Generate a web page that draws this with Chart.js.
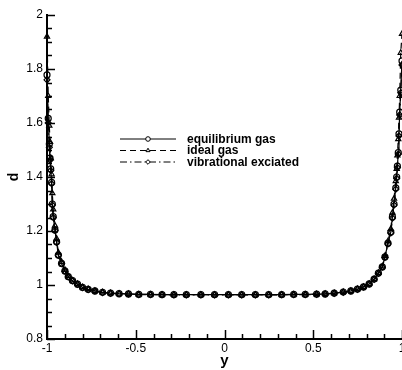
<!DOCTYPE html>
<html>
<head>
<meta charset="utf-8">
<script src="https://cdn.jsdelivr.net/npm/chart.js@4/dist/chart.umd.min.js"></script>
<style>
  html, body { margin: 0; padding: 0; background: #fff; overflow: hidden; }
  #wrap { width: 402px; height: 370px; overflow: hidden; }
</style>
</head>
<body>
<div id="wrap"><canvas id="chart" width="440" height="370"></canvas></div>
<script>
// y position across the channel (shared grid of all three curves)
const yPos = [-1.000, -0.993, -0.987, -0.983, -0.979, -0.974, -0.970, -0.965, -0.955, -0.946,
  -0.936, -0.918, -0.899, -0.880, -0.856, -0.828, -0.800, -0.768, -0.730, -0.687,
  -0.642, -0.594, -0.541, -0.483, -0.417, -0.352, -0.285, -0.215, -0.133, -0.056,
  0.022, 0.097, 0.174, 0.249, 0.322, 0.390, 0.455, 0.519, 0.567, 0.618,
  0.669, 0.712, 0.749, 0.783, 0.815, 0.843, 0.867, 0.889, 0.904, 0.921,
  0.937, 0.946, 0.955, 0.965, 0.970, 0.974, 0.979, 0.983, 0.987, 0.993, 1.000];

const dEquilibrium = [1.778, 1.617, 1.522, 1.470, 1.430, 1.380, 1.300, 1.253, 1.204, 1.160,
  1.111, 1.080, 1.052, 1.031, 1.016, 1.003, 0.991, 0.984, 0.978, 0.973,
  0.970, 0.968, 0.967, 0.965, 0.965, 0.964, 0.964, 0.964, 0.964, 0.964,
  0.964, 0.964, 0.964, 0.964, 0.964, 0.965, 0.965, 0.966, 0.967, 0.970,
  0.974, 0.978, 0.985, 0.993, 1.004, 1.022, 1.044, 1.067, 1.104, 1.155,
  1.196, 1.252, 1.300, 1.360, 1.400, 1.440, 1.490, 1.560, 1.640, 1.722, 1.830];

const dIdeal = [1.920, 1.700, 1.590, 1.530, 1.470, 1.410, 1.340, 1.280, 1.220, 1.172,
  1.120, 1.086, 1.056, 1.033, 1.017, 1.004, 0.992, 0.985, 0.978, 0.973,
  0.970, 0.968, 0.967, 0.965, 0.965, 0.964, 0.964, 0.964, 0.964, 0.964,
  0.964, 0.964, 0.964, 0.964, 0.964, 0.965, 0.965, 0.966, 0.967, 0.970,
  0.974, 0.978, 0.985, 0.993, 1.004, 1.022, 1.045, 1.069, 1.108, 1.162,
  1.208, 1.268, 1.320, 1.385, 1.430, 1.480, 1.540, 1.620, 1.700, 1.860, 1.930];

const dVibrational = [1.760, 1.600, 1.510, 1.462, 1.424, 1.375, 1.296, 1.250, 1.202, 1.158,
  1.110, 1.079, 1.051, 1.030, 1.015, 1.002, 0.990, 0.983, 0.977, 0.972,
  0.969, 0.967, 0.966, 0.964, 0.964, 0.964, 0.963, 0.963, 0.963, 0.963,
  0.963, 0.963, 0.963, 0.963, 0.964, 0.964, 0.964, 0.965, 0.966, 0.969,
  0.973, 0.977, 0.984, 0.992, 1.003, 1.021, 1.043, 1.066, 1.102, 1.152,
  1.193, 1.248, 1.296, 1.355, 1.395, 1.435, 1.485, 1.552, 1.630, 1.712, 1.815];

const seriesNames = ['equilibrium gas', 'ideal gas', 'vibrational exciated'];
const xTicks = [-1, -0.5, 0, 0.5, 1];
const yTicks = [0.8, 1, 1.2, 1.4, 1.6, 1.8, 2];

const toPoints = (vals) => yPos.map((x, i) => ({ x: x, y: vals[i] }));

// ticks pointing into the plot (major + minor), then the line legend
const decorations = {
  id: 'decorations',
  afterDraw(chart) {
    const ctx = chart.ctx;
    const a = chart.chartArea;
    const xs = chart.scales.x, ys = chart.scales.y;

    ctx.save();
    ctx.strokeStyle = '#000';
    ctx.lineWidth = 1.5;
    for (let i = 0; i <= 20; i++) {
      const px = Math.round(xs.getPixelForValue(-1 + i * 0.1)) + 0.5;
      const len = i % 5 === 0 ? 9 : 5;
      ctx.beginPath();
      ctx.moveTo(px, a.bottom);
      ctx.lineTo(px, a.bottom - len);
      ctx.stroke();
    }
    for (let i = 0; i <= 24; i++) {
      const py = Math.round(ys.getPixelForValue(0.8 + i * 0.05)) + 0.5;
      const len = i % 4 === 0 ? 8 : 5;
      ctx.beginPath();
      ctx.moveTo(a.left, py);
      ctx.lineTo(a.left + len, py);
      ctx.stroke();
    }
    ctx.restore();

    chart.data.datasets.forEach((ds, i) => {
      const y = 139 + i * 11.5;
      ctx.save();
      ctx.strokeStyle = '#000';
      ctx.lineWidth = 1;
      ctx.setLineDash(ds.borderDash || []);
      ctx.beginPath();
      ctx.moveTo(120, y);
      ctx.lineTo(176, y);
      ctx.stroke();
      ctx.setLineDash([]);
      ctx.fillStyle = '#fff';
      Chart.helpers.drawPoint(ctx, { pointStyle: ds.pointStyle, radius: 2.3, rotation: 0, borderWidth: 1 }, 148, y);
      ctx.fillStyle = '#000';
      ctx.font = 'bold 12px "Liberation Sans", Arial, sans-serif';
      ctx.textBaseline = 'middle';
      ctx.fillText(ds.label, 187, y + 0.5);
      ctx.restore();
    });
  }
};

const styles = [
  { dash: [], point: 'circle' },
  { dash: [6, 4], point: 'triangle' },
  { dash: [7, 3, 1.5, 3], point: 'rectRot' }
];

const datasets = [dEquilibrium, dIdeal, dVibrational].map((vals, i) => ({
  label: seriesNames[i],
  data: toPoints(vals),
  showLine: true,
  borderColor: '#000',
  borderWidth: 1.2,
  borderDash: styles[i].dash,
  pointStyle: styles[i].point,
  pointRadius: 3,
  pointBorderColor: '#000',
  pointBorderWidth: 1.2,
  pointBackgroundColor: 'rgba(255,255,255,0)',
  clip: false
}));

new Chart(document.getElementById('chart'), {
  type: 'scatter',
  data: { datasets: datasets },
  options: {
    responsive: false,
    animation: false,
    layout: { padding: { top: 15, right: 38, left: 0, bottom: 0 } },
    plugins: {
      legend: { display: false },
      tooltip: { enabled: false }
    },
    scales: {
      x: {
        type: 'linear',
        min: -1,
        max: 1,
        afterFit: (s) => { s.height = 31; },
        afterBuildTicks: (s) => { s.ticks = xTicks.map(v => ({ value: v })); },
        border: { display: true, color: '#000', width: 2 },
        grid: { display: false, drawTicks: false },
        ticks: {
          color: '#000',
          padding: 2,
          font: { family: '"Liberation Sans", Arial, sans-serif', size: 12 },
          callback: (v) => String(v)
        },
        title: {
          display: true,
          text: 'y',
          color: '#000',
          padding: { top: 0, bottom: 0 },
          font: { family: '"Liberation Sans", Arial, sans-serif', size: 15, weight: 'bold' }
        }
      },
      y: {
        type: 'linear',
        min: 0.8,
        max: 2,
        afterFit: (s) => { s.width = 47; },
        afterBuildTicks: (s) => { s.ticks = yTicks.map(v => ({ value: v })); },
        border: { display: true, color: '#000', width: 2 },
        grid: { display: false, drawTicks: false },
        ticks: {
          color: '#000',
          padding: 4,
          font: { family: '"Liberation Sans", Arial, sans-serif', size: 12 },
          callback: (v) => String(v)
        },
        title: {
          display: true,
          text: 'd',
          color: '#000',
          padding: { top: 6, bottom: 0 },
          font: { family: '"Liberation Sans", Arial, sans-serif', size: 14, weight: 'bold' }
        }
      }
    }
  },
  plugins: [decorations]
});
</script>
</body>
</html>
